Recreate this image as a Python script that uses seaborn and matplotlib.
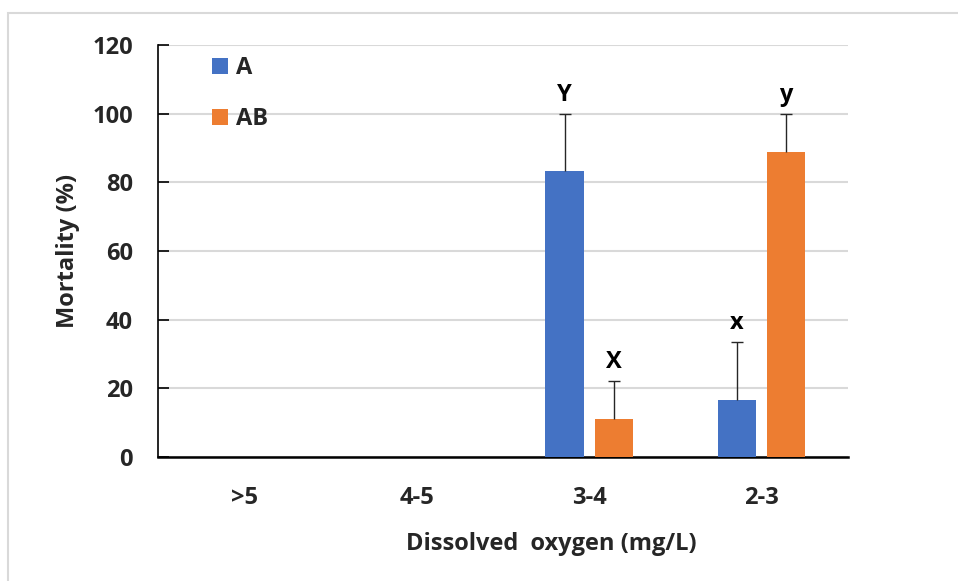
import pandas as pd
import numpy as np
import seaborn as sns
import matplotlib.pyplot as plt
from matplotlib.patches import Rectangle

# Data
categories = [">5", "4-5", "3-4", "2-3"]
mortality_a = [0, 0, 83.3, 16.7]
mortality_ab = [0, 0, 11.1, 88.9]
err_a = [0, 0, 16.7, 16.7]
err_ab = [0, 0, 11.1, 11.1]
letters_a = ["", "", "Y", "x"]
letters_ab = ["", "", "X", "y"]

groups = ["A", "AB"]
colors = ["#4472C4", "#ED7D31"]

df = pd.DataFrame({
    "DO": categories * 2,
    "Mortality": mortality_a + mortality_ab,
    "Group": ["A"] * 4 + ["AB"] * 4,
})

sns.set_theme(style="white")
plt.rcParams["font.family"] = ["Open Sans", "DejaVu Sans"]
plt.rcParams["font.weight"] = "bold"
fs = 17

fig = plt.figure(figsize=(9.58, 5.81), dpi=100)
ax = fig.add_axes([0.165, 0.2134, 0.72, 0.7091])

sns.barplot(data=df, x="DO", y="Mortality", hue="Group", order=categories,
            hue_order=groups, palette=colors, width=0.57, gap=0.22,
            saturation=1, errorbar=None, linewidth=0, ax=ax, zorder=3)

# upward-only error bars with a cap, and significance letters
n = len(categories)
for gi, (vals, errs, letters) in enumerate([(mortality_a, err_a, letters_a),
                                             (mortality_ab, err_ab, letters_ab)]):
    for i, (v, e, t) in enumerate(zip(vals, errs, letters)):
        bar = ax.patches[gi * n + i]
        xc = bar.get_x() + bar.get_width() / 2
        if e > 0:
            ax.vlines(xc, v, v + e, color="#262626", linewidth=1, zorder=4)
            ax.hlines(v + e, xc - 0.035, xc + 0.035, color="#262626",
                      linewidth=1, zorder=4)
        if t:
            ax.text(xc, v + e + 2.0, t, ha="center", va="bottom",
                    fontsize=fs, fontweight="bold", color="black")

ax.set_ylim(0, 120)
ax.set_yticks(range(0, 121, 20))
ax.set_xlim(-0.5, 3.5)
ax.yaxis.grid(True, color="#d9d9d9", linewidth=1.5, zorder=0)
ax.set_axisbelow(True)

for s in ["top", "right"]:
    ax.spines[s].set_visible(False)
ax.spines["left"].set_color("black")
ax.spines["left"].set_linewidth(1.2)
ax.spines["bottom"].set_color("black")
ax.spines["bottom"].set_linewidth(1.8)

ax.tick_params(axis="y", direction="in", length=8, width=1.2, color="black",
               left=True, labelsize=fs, pad=18)
ax.tick_params(axis="x", length=0, labelsize=fs, pad=21)
for lab in ax.get_xticklabels() + ax.get_yticklabels():
    lab.set_fontweight("bold")

ax.set_xlabel("Dissolved  oxygen (mg/L)", fontsize=fs, fontweight="bold", labelpad=16)
ax.xaxis.label.set_x(0.57)
ax.set_ylabel("Mortality (%)", fontsize=fs, fontweight="bold", labelpad=9)

leg = ax.legend(loc="upper left", bbox_to_anchor=(0.048, 1.025), frameon=False,
                handlelength=0.68, handleheight=0.68, handletextpad=0.3,
                labelspacing=1.15, prop={"size": fs, "weight": "bold"})

# light outer frame of the chart area
fig.patches.append(Rectangle((0.008, -0.1), 1.1, 1.077, transform=fig.transFigure,
                             fill=False, edgecolor="#d9d9d9", linewidth=1.5))

fig.savefig("out.png", dpi=100, facecolor="white")
